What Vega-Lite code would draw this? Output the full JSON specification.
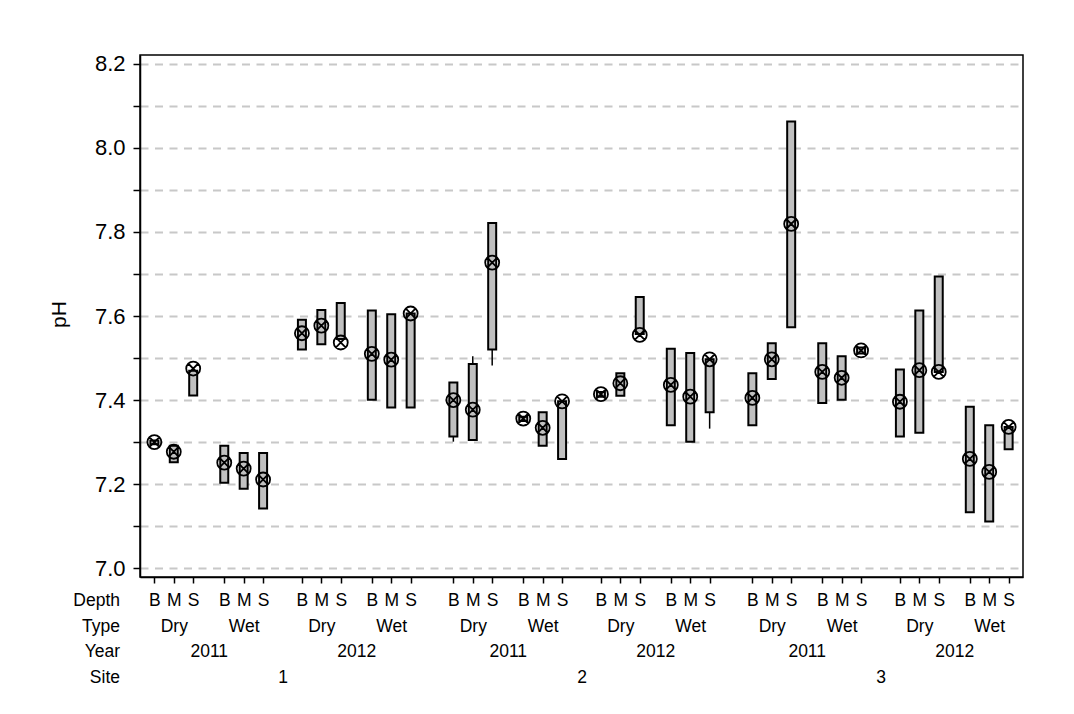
{
  "$schema": "https://vega.github.io/schema/vega-lite/v6.json",
  "width": 883,
  "height": 522,
  "autosize": {"type": "none"},
  "padding": {"left": 140, "top": 55, "right": 51, "bottom": 137},
  "background": "white",
  "config": {
    "font": "Liberation Sans",
    "view": {"stroke": "black", "strokeWidth": 1.5}
  },
  "data": {
    "values": [
      {"Site": "1", "Year": "2011", "Type": "Dry", "Depth": "B", "min": 7.295, "q1": 7.295, "mean": 7.300, "q3": 7.304, "max": 7.304},
      {"Site": "1", "Year": "2011", "Type": "Dry", "Depth": "M", "min": 7.252, "q1": 7.252, "mean": 7.277, "q3": 7.291, "max": 7.291},
      {"Site": "1", "Year": "2011", "Type": "Dry", "Depth": "S", "min": 7.411, "q1": 7.411, "mean": 7.475, "q3": 7.470, "max": 7.470},
      {"Site": "1", "Year": "2011", "Type": "Wet", "Depth": "B", "min": 7.203, "q1": 7.203, "mean": 7.251, "q3": 7.291, "max": 7.291},
      {"Site": "1", "Year": "2011", "Type": "Wet", "Depth": "M", "min": 7.189, "q1": 7.189, "mean": 7.237, "q3": 7.274, "max": 7.274},
      {"Site": "1", "Year": "2011", "Type": "Wet", "Depth": "S", "min": 7.142, "q1": 7.142, "mean": 7.211, "q3": 7.274, "max": 7.274},
      {"Site": "1", "Year": "2012", "Type": "Dry", "Depth": "B", "min": 7.520, "q1": 7.520, "mean": 7.559, "q3": 7.591, "max": 7.591},
      {"Site": "1", "Year": "2012", "Type": "Dry", "Depth": "M", "min": 7.533, "q1": 7.533, "mean": 7.577, "q3": 7.614, "max": 7.614},
      {"Site": "1", "Year": "2012", "Type": "Dry", "Depth": "S", "min": 7.545, "q1": 7.545, "mean": 7.537, "q3": 7.631, "max": 7.631},
      {"Site": "1", "Year": "2012", "Type": "Wet", "Depth": "B", "min": 7.401, "q1": 7.401, "mean": 7.510, "q3": 7.613, "max": 7.613},
      {"Site": "1", "Year": "2012", "Type": "Wet", "Depth": "M", "min": 7.382, "q1": 7.382, "mean": 7.496, "q3": 7.604, "max": 7.604},
      {"Site": "1", "Year": "2012", "Type": "Wet", "Depth": "S", "min": 7.382, "q1": 7.382, "mean": 7.606, "q3": 7.606, "max": 7.606},
      {"Site": "2", "Year": "2011", "Type": "Dry", "Depth": "B", "min": 7.301, "q1": 7.313, "mean": 7.400, "q3": 7.442, "max": 7.442},
      {"Site": "2", "Year": "2011", "Type": "Dry", "Depth": "M", "min": 7.305, "q1": 7.305, "mean": 7.377, "q3": 7.486, "max": 7.504},
      {"Site": "2", "Year": "2011", "Type": "Dry", "Depth": "S", "min": 7.482, "q1": 7.520, "mean": 7.727, "q3": 7.821, "max": 7.821},
      {"Site": "2", "Year": "2011", "Type": "Wet", "Depth": "B", "min": 7.350, "q1": 7.350, "mean": 7.356, "q3": 7.360, "max": 7.360},
      {"Site": "2", "Year": "2011", "Type": "Wet", "Depth": "M", "min": 7.291, "q1": 7.291, "mean": 7.334, "q3": 7.371, "max": 7.371},
      {"Site": "2", "Year": "2011", "Type": "Wet", "Depth": "S", "min": 7.260, "q1": 7.260, "mean": 7.397, "q3": 7.397, "max": 7.397},
      {"Site": "2", "Year": "2012", "Type": "Dry", "Depth": "B", "min": 7.408, "q1": 7.408, "mean": 7.414, "q3": 7.419, "max": 7.419},
      {"Site": "2", "Year": "2012", "Type": "Dry", "Depth": "M", "min": 7.410, "q1": 7.410, "mean": 7.440, "q3": 7.464, "max": 7.464},
      {"Site": "2", "Year": "2012", "Type": "Dry", "Depth": "S", "min": 7.557, "q1": 7.557, "mean": 7.555, "q3": 7.645, "max": 7.645},
      {"Site": "2", "Year": "2012", "Type": "Wet", "Depth": "B", "min": 7.340, "q1": 7.340, "mean": 7.436, "q3": 7.522, "max": 7.522},
      {"Site": "2", "Year": "2012", "Type": "Wet", "Depth": "M", "min": 7.301, "q1": 7.301, "mean": 7.408, "q3": 7.512, "max": 7.512},
      {"Site": "2", "Year": "2012", "Type": "Wet", "Depth": "S", "min": 7.332, "q1": 7.371, "mean": 7.497, "q3": 7.497, "max": 7.497},
      {"Site": "3", "Year": "2011", "Type": "Dry", "Depth": "B", "min": 7.340, "q1": 7.340, "mean": 7.405, "q3": 7.464, "max": 7.464},
      {"Site": "3", "Year": "2011", "Type": "Dry", "Depth": "M", "min": 7.450, "q1": 7.450, "mean": 7.497, "q3": 7.535, "max": 7.535},
      {"Site": "3", "Year": "2011", "Type": "Dry", "Depth": "S", "min": 7.573, "q1": 7.573, "mean": 7.819, "q3": 8.063, "max": 8.063},
      {"Site": "3", "Year": "2011", "Type": "Wet", "Depth": "B", "min": 7.393, "q1": 7.393, "mean": 7.467, "q3": 7.535, "max": 7.535},
      {"Site": "3", "Year": "2011", "Type": "Wet", "Depth": "M", "min": 7.401, "q1": 7.401, "mean": 7.453, "q3": 7.504, "max": 7.504},
      {"Site": "3", "Year": "2011", "Type": "Wet", "Depth": "S", "min": 7.511, "q1": 7.511, "mean": 7.518, "q3": 7.525, "max": 7.525},
      {"Site": "3", "Year": "2012", "Type": "Dry", "Depth": "B", "min": 7.313, "q1": 7.313, "mean": 7.396, "q3": 7.473, "max": 7.473},
      {"Site": "3", "Year": "2012", "Type": "Dry", "Depth": "M", "min": 7.322, "q1": 7.322, "mean": 7.471, "q3": 7.613, "max": 7.613},
      {"Site": "3", "Year": "2012", "Type": "Dry", "Depth": "S", "min": 7.467, "q1": 7.467, "mean": 7.467, "q3": 7.694, "max": 7.694},
      {"Site": "3", "Year": "2012", "Type": "Wet", "Depth": "B", "min": 7.133, "q1": 7.133, "mean": 7.260, "q3": 7.384, "max": 7.384},
      {"Site": "3", "Year": "2012", "Type": "Wet", "Depth": "M", "min": 7.111, "q1": 7.111, "mean": 7.229, "q3": 7.340, "max": 7.340},
      {"Site": "3", "Year": "2012", "Type": "Wet", "Depth": "S", "min": 7.283, "q1": 7.283, "mean": 7.336, "q3": 7.336, "max": 7.336}
    ]
  },
  "transform": [
    {"calculate": "datum.Site + '|' + datum.Year + '|' + datum.Type + '|' + datum.Depth", "as": "key"}
  ],
  "encoding": {
    "x": {
      "field": "key",
      "type": "nominal",
      "scale": {
        "type": "point",
        "padding": 0.7,
        "domain": ["_a1","_a2","_a3",
          "1|2011|Dry|B","_1","_2","_3","_4","1|2011|Dry|M","_6","_7","_8","_9","1|2011|Dry|S","_11","_12","_13","_Y|1|2011","_15","_16","_17","1|2011|Wet|B","_19","_20","_21","_22","1|2011|Wet|M","_24","_25","_26","_27","1|2011|Wet|S","_29","_30","_31","_32","_S|1","_34","_35","_36","_37","1|2012|Dry|B","_39","_40","_41","_42","1|2012|Dry|M","_44","_45","_46","_47","1|2012|Dry|S","_49","_50","_51","_Y|1|2012","_53","_54","_55","1|2012|Wet|B","_57","_58","_59","_60","1|2012|Wet|M","_62","_63","_64","_65","1|2012|Wet|S","_67","_68","_69","_70","_71","_72","_73","_74","_75","_76",
          "2|2011|Dry|B","_78","_79","_80","_81","2|2011|Dry|M","_83","_84","_85","_86","2|2011|Dry|S","_88","_89","_90","_Y|2|2011","_92","_93","_94","2|2011|Wet|B","_96","_97","_98","_99","2|2011|Wet|M","_101","_102","_103","_104","2|2011|Wet|S","_106","_107","_108","_109","_S|2","_111","_112","_113","_114","2|2012|Dry|B","_116","_117","_118","_119","2|2012|Dry|M","_121","_122","_123","_124","2|2012|Dry|S","_126","_127","_128","_Y|2|2012","_130","_131","_132","2|2012|Wet|B","_134","_135","_136","_137","2|2012|Wet|M","_139","_140","_141","_142","2|2012|Wet|S","_144","_145","_146","_147","_148","_149","_150","_151","_152","_153",
          "3|2011|Dry|B","_155","_156","_157","_158","3|2011|Dry|M","_160","_161","_162","_163","3|2011|Dry|S","_165","_166","_167","_Y|3|2011","_169","_170","_171","3|2011|Wet|B","_173","_174","_175","_176","3|2011|Wet|M","_178","_179","_180","_181","3|2011|Wet|S","_183","_184","_185","_186","_S|3","_188","_189","_190","_191","3|2012|Dry|B","_193","_194","_195","_196","3|2012|Dry|M","_198","_199","_200","_201","3|2012|Dry|S","_203","_204","_205","_Y|3|2012","_207","_208","_209","3|2012|Wet|B","_211","_212","_213","_214","3|2012|Wet|M","_216","_217","_218","_219","3|2012|Wet|S",
          "_z1","_z2","_z3"]
      },
      "axis": {
        "title": ["Depth", "Type", "Year", "Site"],
        "titleX": -20.5,
        "titleY": 28.4,
        "titleAlign": "right",
        "titleBaseline": "alphabetic",
        "titleAngle": 0,
        "titleFontSize": 17.5,
        "titleFontWeight": "normal",
        "titleColor": "black",
        "titleLineHeight": 25.8,
        "labelExpr": "substring(datum.value,0,3)=='_Y|' ? ['\u200b','\u200b',split(datum.value,'|')[2]] : substring(datum.value,0,3)=='_S|' ? ['\u200b','\u200b','\u200b',split(datum.value,'|')[1]] : substring(datum.value,0,1)=='_' ? '' : [split(datum.value,'|')[3], split(datum.value,'|')[3]=='M' ? split(datum.value,'|')[2] : '\u200b']",
        "labelAngle": 0,
        "labelAlign": "center",
        "labelBaseline": "alphabetic",
        "labelFontSize": 17.5,
        "labelColor": "black",
        "labelLineHeight": 25.8,
        "labelPadding": 22.4,
        "labelOverlap": false,
        "labelLimit": 300,
        "tickSize": 6,
        "tickWidth": 1.5,
        "tickColor": "black",
        "tickOpacity": {"condition": {"test": "substring(datum.value,0,1)=='_'", "value": 0}, "value": 1},
        "domainColor": "black",
        "domainWidth": 1.5,
        "grid": false
      }
    }
  },
  "layer": [
    {
      "mark": {"type": "rule", "color": "black", "strokeWidth": 1.5},
      "encoding": {
        "y": {
          "field": "min",
          "type": "quantitative",
          "title": "pH",
          "scale": {"domain": [6.979, 8.221], "nice": false, "zero": false},
          "axis": {
            "titleX": -81,
            "titleY": 259,
            "titleAngle": -90,
            "titleAlign": "center",
            "titleBaseline": "middle",
            "titleFontSize": 21,
            "titleFontWeight": "normal",
            "titleColor": "black",
            "values": [7.0, 7.1, 7.2, 7.3, 7.4, 7.5, 7.6, 7.7, 7.8, 7.9, 8.0, 8.1, 8.2],
            "labelExpr": "round(datum.value*10) % 2 == 0 ? format(datum.value, '.1f') : ''",
            "labelFontSize": 22,
            "labelColor": "black",
            "labelPadding": 8,
            "labelBaseline": "middle",
            "tickSize": 7,
            "tickWidth": 1.5,
            "tickColor": "black",
            "domainColor": "black",
            "domainWidth": 1.5,
            "grid": true,
            "gridColor": "#c8c8c8",
            "gridDash": [8, 6.5],
            "gridWidth": 2
          }
        },
        "y2": {"field": "max"}
      }
    },
    {
      "mark": {"type": "bar", "size": 8, "fill": "#c0c0c0", "stroke": "black", "strokeWidth": 2},
      "encoding": {
        "y": {"field": "q1", "type": "quantitative", "title": "pH"},
        "y2": {"field": "q3"}
      }
    },
    {
      "mark": {
        "type": "point",
        "shape": "M-1,0A1,1,0,1,1,1,0A1,1,0,1,1,-1,0Z M-0.72,-0.72L0.72,0.72 M-0.72,0.72L0.72,-0.72",
        "size": 196,
        "filled": false,
        "color": "black",
        "strokeWidth": 1.8,
        "opacity": 1
      },
      "encoding": {
        "y": {"field": "mean", "type": "quantitative", "title": "pH"}
      }
    }
  ]
}
